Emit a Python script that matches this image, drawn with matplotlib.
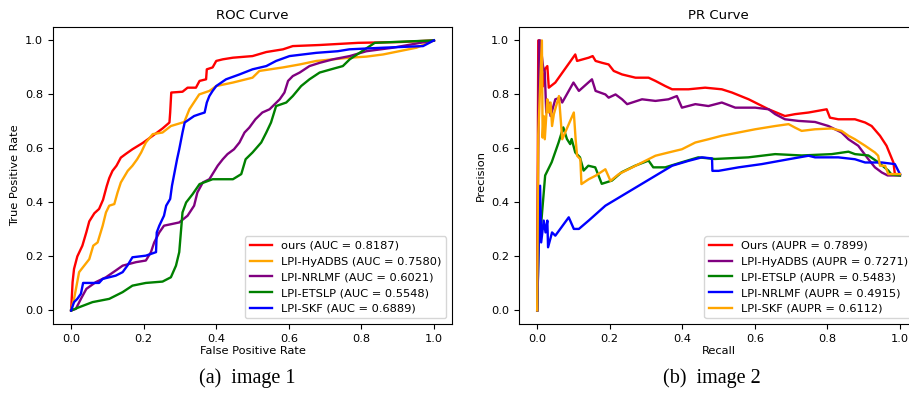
import matplotlib.pyplot as plt

# ROC curves (FPR, TPR)
roc_ours_x = [0, 0.004, 0.008, 0.017, 0.031, 0.042, 0.05, 0.064, 0.077, 0.088, 0.098, 0.105, 0.114, 0.125, 0.137, 0.151, 0.169, 0.197, 0.225, 0.252, 0.271, 0.273, 0.276, 0.307, 0.321, 0.344, 0.354, 0.372, 0.374, 0.39, 0.4, 0.418, 0.446, 0.5, 0.538, 0.584, 0.611, 0.685, 0.791, 0.906, 1.0]
roc_ours_y = [0, 0.105, 0.154, 0.2, 0.24, 0.29, 0.33, 0.36, 0.376, 0.41, 0.46, 0.49, 0.517, 0.536, 0.566, 0.58, 0.597, 0.62, 0.647, 0.674, 0.696, 0.733, 0.807, 0.81, 0.825, 0.825, 0.85, 0.856, 0.893, 0.9, 0.924, 0.93, 0.936, 0.942, 0.957, 0.967, 0.979, 0.983, 0.991, 0.994, 1.0]

roc_hyadbs_x = [0, 0.008, 0.015, 0.022, 0.036, 0.05, 0.061, 0.073, 0.087, 0.096, 0.105, 0.119, 0.128, 0.137, 0.156, 0.169, 0.182, 0.193, 0.206, 0.225, 0.252, 0.275, 0.312, 0.326, 0.353, 0.381, 0.39, 0.4, 0.446, 0.5, 0.519, 0.584, 0.63, 0.676, 0.768, 0.814, 0.86, 0.952, 1.0]
roc_hyadbs_y = [0, 0.043, 0.092, 0.142, 0.166, 0.19, 0.24, 0.252, 0.314, 0.363, 0.388, 0.394, 0.437, 0.474, 0.517, 0.536, 0.56, 0.585, 0.622, 0.653, 0.659, 0.683, 0.698, 0.745, 0.8, 0.813, 0.821, 0.831, 0.844, 0.862, 0.887, 0.9, 0.911, 0.924, 0.936, 0.94, 0.948, 0.973, 1.0]

roc_nrlmf_x = [0, 0.013, 0.027, 0.042, 0.068, 0.096, 0.123, 0.142, 0.179, 0.206, 0.22, 0.229, 0.243, 0.256, 0.298, 0.321, 0.339, 0.348, 0.363, 0.381, 0.404, 0.418, 0.431, 0.449, 0.464, 0.478, 0.491, 0.508, 0.527, 0.547, 0.575, 0.588, 0.598, 0.611, 0.63, 0.657, 0.685, 0.722, 0.768, 0.814, 0.887, 1.0]
roc_nrlmf_y = [0, 0.006, 0.043, 0.08, 0.105, 0.123, 0.148, 0.166, 0.179, 0.185, 0.216, 0.252, 0.289, 0.314, 0.326, 0.351, 0.388, 0.437, 0.474, 0.486, 0.536, 0.56, 0.579, 0.597, 0.622, 0.659, 0.677, 0.708, 0.733, 0.745, 0.782, 0.807, 0.85, 0.868, 0.881, 0.905, 0.917, 0.93, 0.942, 0.96, 0.973, 1.0]

roc_etslp_x = [0, 0.022, 0.059, 0.105, 0.142, 0.169, 0.206, 0.252, 0.275, 0.289, 0.298, 0.307, 0.317, 0.335, 0.354, 0.39, 0.446, 0.469, 0.481, 0.5, 0.524, 0.538, 0.551, 0.565, 0.593, 0.611, 0.634, 0.657, 0.685, 0.722, 0.749, 0.768, 0.795, 0.837, 0.906, 1.0]
roc_etslp_y = [0, 0.012, 0.031, 0.043, 0.068, 0.092, 0.102, 0.107, 0.123, 0.166, 0.216, 0.363, 0.4, 0.431, 0.468, 0.486, 0.486, 0.505, 0.56, 0.585, 0.622, 0.659, 0.696, 0.757, 0.77, 0.794, 0.831, 0.856, 0.881, 0.895, 0.905, 0.93, 0.954, 0.991, 0.995, 1.0]

roc_skf_x = [0, 0.008, 0.017, 0.027, 0.033, 0.077, 0.087, 0.123, 0.142, 0.155, 0.169, 0.206, 0.234, 0.236, 0.243, 0.256, 0.262, 0.273, 0.278, 0.285, 0.292, 0.298, 0.307, 0.313, 0.339, 0.354, 0.368, 0.374, 0.381, 0.39, 0.4, 0.427, 0.464, 0.5, 0.538, 0.565, 0.602, 0.676, 0.735, 0.767, 0.86, 0.97, 1.0]
roc_skf_y = [0, 0.031, 0.043, 0.062, 0.102, 0.102, 0.117, 0.129, 0.142, 0.166, 0.197, 0.203, 0.216, 0.289, 0.314, 0.351, 0.388, 0.413, 0.462, 0.511, 0.56, 0.597, 0.659, 0.696, 0.72, 0.727, 0.733, 0.77, 0.794, 0.813, 0.831, 0.856, 0.874, 0.893, 0.905, 0.924, 0.942, 0.954, 0.96, 0.967, 0.973, 0.979, 1.0]

# PR curves (recall, precision)
pr_ours_x = [0, 0.003, 0.006, 0.016, 0.021, 0.028, 0.032, 0.05, 0.105, 0.11, 0.142, 0.153, 0.161, 0.179, 0.197, 0.211, 0.234, 0.271, 0.307, 0.326, 0.353, 0.372, 0.417, 0.463, 0.509, 0.537, 0.583, 0.638, 0.683, 0.711, 0.748, 0.798, 0.807, 0.83, 0.876, 0.904, 0.922, 0.945, 0.963, 0.982, 0.986, 1.0]
pr_ours_y = [0, 1.0, 1.0, 0.83, 0.893, 0.905, 0.825, 0.844, 0.948, 0.924, 0.936, 0.942, 0.924, 0.917, 0.911, 0.887, 0.874, 0.862, 0.862, 0.85, 0.831, 0.819, 0.819, 0.825, 0.819, 0.807, 0.782, 0.745, 0.72, 0.727, 0.733, 0.745, 0.714, 0.708, 0.708, 0.696, 0.683, 0.647, 0.61, 0.548, 0.505, 0.505]

pr_hyadbs_x = [0, 0.005, 0.008, 0.016, 0.021, 0.025, 0.032, 0.037, 0.05, 0.064, 0.069, 0.1, 0.115, 0.151, 0.161, 0.188, 0.197, 0.216, 0.234, 0.248, 0.289, 0.326, 0.362, 0.385, 0.399, 0.436, 0.472, 0.509, 0.546, 0.601, 0.638, 0.656, 0.683, 0.72, 0.766, 0.803, 0.839, 0.858, 0.885, 0.913, 0.931, 0.95, 0.966, 1.0]
pr_hyadbs_y = [0, 1.0, 1.0, 0.905, 0.88, 0.733, 0.77, 0.72, 0.782, 0.788, 0.77, 0.844, 0.813, 0.856, 0.813, 0.8, 0.788, 0.8, 0.782, 0.764, 0.782, 0.776, 0.782, 0.794, 0.751, 0.764, 0.757, 0.77, 0.751, 0.751, 0.745, 0.727, 0.708, 0.702, 0.698, 0.683, 0.659, 0.634, 0.61, 0.56, 0.53, 0.511, 0.5, 0.5]

pr_etslp_x = [0, 0.004, 0.009, 0.022, 0.04, 0.059, 0.072, 0.082, 0.091, 0.095, 0.105, 0.118, 0.128, 0.141, 0.16, 0.169, 0.178, 0.206, 0.233, 0.27, 0.307, 0.32, 0.353, 0.399, 0.444, 0.49, 0.582, 0.656, 0.729, 0.812, 0.858, 0.876, 0.913, 0.94, 0.968, 0.977, 1.0]
pr_etslp_y = [0, 0.25, 0.289, 0.5, 0.549, 0.622, 0.678, 0.635, 0.616, 0.635, 0.585, 0.567, 0.518, 0.536, 0.53, 0.5, 0.469, 0.481, 0.512, 0.536, 0.555, 0.53, 0.53, 0.549, 0.567, 0.561, 0.567, 0.579, 0.574, 0.579, 0.588, 0.579, 0.574, 0.549, 0.518, 0.503, 0.5]

pr_nrlmf_x = [0, 0.008, 0.011, 0.018, 0.023, 0.028, 0.03, 0.041, 0.05, 0.087, 0.101, 0.115, 0.142, 0.188, 0.234, 0.28, 0.326, 0.372, 0.417, 0.454, 0.482, 0.483, 0.5, 0.555, 0.619, 0.693, 0.748, 0.766, 0.83, 0.876, 0.904, 0.95, 0.986, 1.0]
pr_nrlmf_y = [0, 0.462, 0.252, 0.333, 0.289, 0.333, 0.234, 0.289, 0.277, 0.345, 0.302, 0.302, 0.333, 0.388, 0.425, 0.462, 0.499, 0.536, 0.554, 0.567, 0.563, 0.517, 0.517, 0.53, 0.542, 0.56, 0.573, 0.567, 0.567, 0.56, 0.548, 0.548, 0.542, 0.505]

pr_skf_x = [0, 0.003, 0.013, 0.015, 0.018, 0.021, 0.028, 0.032, 0.037, 0.041, 0.046, 0.06, 0.069, 0.101, 0.106, 0.11, 0.119, 0.122, 0.142, 0.161, 0.188, 0.202, 0.225, 0.252, 0.289, 0.326, 0.362, 0.399, 0.436, 0.472, 0.509, 0.555, 0.601, 0.656, 0.693, 0.711, 0.729, 0.766, 0.812, 0.839, 0.858, 0.876, 0.904, 0.931, 0.94, 0.945, 0.959, 0.968, 1.0]
pr_skf_y = [0, 0.65, 1.0, 0.64, 0.72, 0.634, 0.782, 0.733, 0.77, 0.683, 0.727, 0.794, 0.634, 0.733, 0.634, 0.573, 0.56, 0.468, 0.486, 0.499, 0.523, 0.48, 0.505, 0.523, 0.548, 0.573, 0.585, 0.597, 0.622, 0.634, 0.647, 0.659, 0.671, 0.683, 0.69, 0.677, 0.665, 0.671, 0.674, 0.665, 0.647, 0.634, 0.61, 0.585, 0.573, 0.536, 0.536, 0.505, 0.505]

fig = plt.figure(figsize=(9.09, 3.94), dpi=100)
ax1 = fig.add_axes([0.0583, 0.1777, 0.439, 0.754])
ax2 = fig.add_axes([0.571, 0.1777, 0.439, 0.754])

ax1.plot(roc_ours_x, roc_ours_y, color="red", lw=1.7, label="ours (AUC = 0.8187)")
ax1.plot(roc_hyadbs_x, roc_hyadbs_y, color="orange", lw=1.7, label="LPI-HyADBS (AUC = 0.7580)")
ax1.plot(roc_nrlmf_x, roc_nrlmf_y, color="purple", lw=1.7, label="LPI-NRLMF (AUC = 0.6021)")
ax1.plot(roc_etslp_x, roc_etslp_y, color="green", lw=1.7, label="LPI-ETSLP (AUC = 0.5548)")
ax1.plot(roc_skf_x, roc_skf_y, color="blue", lw=1.7, label="LPI-SKF (AUC = 0.6889)")
ax1.set_title("ROC Curve", fontsize=9.5)
ax1.set_xlabel("False Positive Rate", fontsize=8.2, labelpad=2)
ax1.set_ylabel("True Positive Rate", fontsize=8.2)
ax1.legend(loc="lower right", fontsize=8.2)

ax2.plot(pr_ours_x, pr_ours_y, color="red", lw=1.7, label="Ours (AUPR = 0.7899)")
ax2.plot(pr_hyadbs_x, pr_hyadbs_y, color="purple", lw=1.7, label="LPI-HyADBS (AUPR = 0.7271)")
ax2.plot(pr_etslp_x, pr_etslp_y, color="green", lw=1.7, label="LPI-ETSLP (AUPR = 0.5483)")
ax2.plot(pr_nrlmf_x, pr_nrlmf_y, color="blue", lw=1.7, label="LPI-NRLMF (AUPR = 0.4915)")
ax2.plot(pr_skf_x, pr_skf_y, color="orange", lw=1.7, label="LPI-SKF (AUPR = 0.6112)")
ax2.set_title("PR Curve", fontsize=9.5)
ax2.set_xlabel("Recall", fontsize=8.2, labelpad=2)
ax2.set_ylabel("Precision", fontsize=8.2)
ax2.legend(loc="lower right", fontsize=8.2)

for ax in (ax1, ax2):
    ax.tick_params(labelsize=8.2)

fig.text(0.272, 0.04, "(a)  image 1", ha="center", va="center", fontsize=14.5, family="Liberation Serif")
fig.text(0.783, 0.04, "(b)  image 2", ha="center", va="center", fontsize=14.5, family="Liberation Serif")

fig.savefig("out.png", dpi=100)
